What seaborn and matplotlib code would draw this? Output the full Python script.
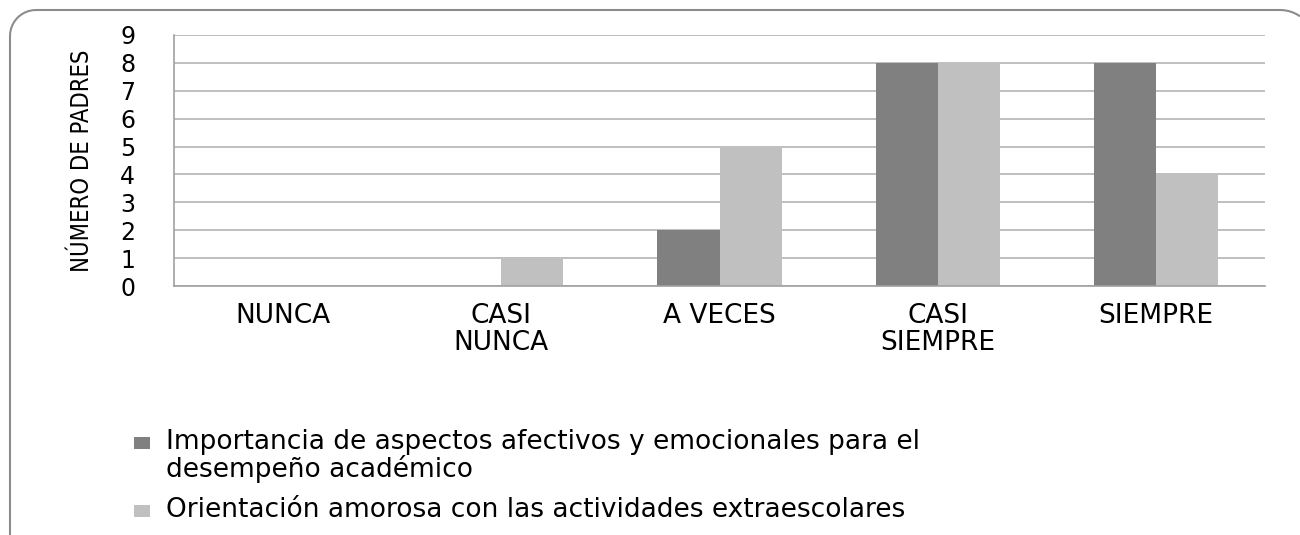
import matplotlib
matplotlib.use('Agg')
import matplotlib.pyplot as plt
from matplotlib.patches import Rectangle, PathPatch
from matplotlib.path import Path
from matplotlib.transforms import IdentityTransform
import numpy as np
import seaborn as sns
import pandas as pd

# datos
categorias = ['NUNCA', 'CASI\nNUNCA', 'A VECES', 'CASI\nSIEMPRE', 'SIEMPRE']
series = ['Importancia de aspectos afectivos y emocionales para el\ndesempeño académico',
          'Orientación amorosa con las actividades extraescolares']
importancia = [0, 0, 2, 8, 8]
orientacion = [0, 1, 5, 8, 4]
yticks = list(range(0, 10))
colores = ['#808080', '#c0c0c0']

df = pd.DataFrame({
    'categoria': categorias * 2,
    'serie': [series[0]] * len(categorias) + [series[1]] * len(categorias),
    'valor': importancia + orientacion,
})

sns.set_style('white')
plt.rcParams['font.family'] = ['DejaVu Sans']
plt.rcParams['text.color'] = 'black'

fig = plt.figure(figsize=(13, 5.35), dpi=100)
ax = fig.add_axes([174/1300, 1-286/535, (1265-174)/1300, (286-35)/535])

sns.barplot(data=df, x='categoria', y='valor', hue='serie', palette=colores,
            width=0.57, saturation=1, linewidth=0, ax=ax, legend=False)

ax.set_ylim(0, 9)
ax.set_yticks(yticks)
ax.set_xlim(-0.5, 4.5)
ax.set_axisbelow(True)
ax.grid(axis='y', color='#b4b4b4', linewidth=1.2)
ax.grid(axis='x', visible=False)
for s in ['top', 'right']:
    ax.spines[s].set_visible(False)
for s in ['left', 'bottom']:
    ax.spines[s].set_color('#a0a0a0')
    ax.spines[s].set_linewidth(1.2)

ax.tick_params(axis='y', length=0, pad=28, labelsize=17, labelcolor='black')
ax.tick_params(axis='x', length=0, pad=12, labelsize=19, labelcolor='black')
for t in ax.get_xticklabels():
    t.set_linespacing(1.05)

ax.set_xlabel('')
ax.set_ylabel('NÚMERO DE PADRES', fontsize=17, color='black',
              family=['DejaVu Sans'], fontstretch='condensed')
ax.yaxis.set_label_coords(-0.0843, 0.5)
ax.yaxis.label.set_va('center')

# leyenda debajo del grafico (cuadro alineado con la primera linea)
ley_y = [437, 505]
for c, lab, y in zip(colores, series, ley_y):
    fig.patches.append(Rectangle((134/1300, 1-(y+12)/535), 16/1300, 12/535,
                                 transform=fig.transFigure, facecolor=c,
                                 edgecolor='none'))
    fig.text(166/1300, 1-(y-8)/535, lab, fontsize=19, va='top', ha='left',
             linespacing=1.0)

# marco redondeado del grafico (en pixeles, se corta a la derecha y abajo)
r1, r2 = 26, 35
a1 = np.linspace(np.pi, np.pi / 2, 12)
a2 = np.linspace(np.pi / 2, np.arccos(20 / r2), 8)
pts = [(10, 0)]
pts += [(10 + r1 + r1 * np.cos(a), 525 - r1 + r1 * np.sin(a)) for a in a1]
pts += [(1280 + r2 * np.cos(a), 525 - r2 + r2 * np.sin(a)) for a in a2]
marco = PathPatch(Path(pts), transform=IdentityTransform(), facecolor='none',
                  edgecolor='#8c8c8c', linewidth=1.5)
fig.patches.append(marco)

fig.savefig('out.png', dpi=100)
